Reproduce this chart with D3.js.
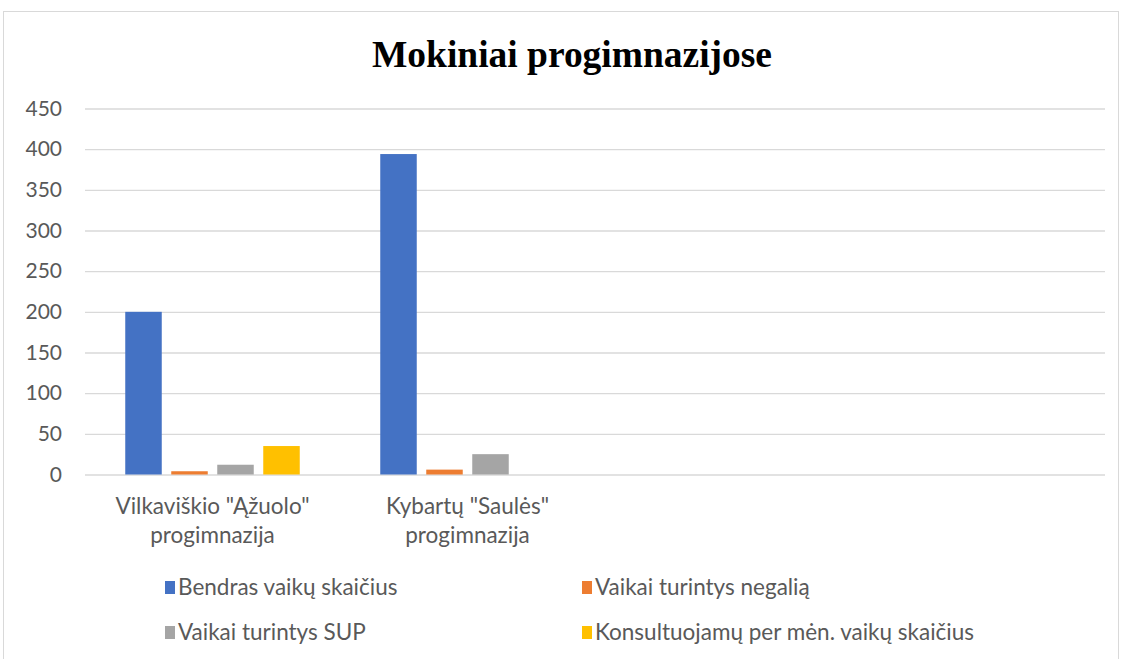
<!DOCTYPE html>
<html>
<head>
<meta charset="utf-8">
<script src="https://cdn.jsdelivr.net/npm/d3@7"></script>
<style>
  body { margin: 0; background: #fff; }
  text { font-family: Lato, "Open Sans", sans-serif; }
</style>
</head>
<body>
<div id="chart"></div>
<script>
// data
var categories = ['Vilkaviškio "Ąžuolo" progimnazija', 'Kybartų "Saulės" progimnazija', '', ''];
var seriesNames = ['Bendras vaikų skaičius', 'Vaikai turintys negalią', 'Vaikai turintys SUP', 'Konsultuojamų per mėn. vaikų skaičius'];
var bendras = [200, 394, null, null];
var negalia = [4, 6, null, null];
var sup = [12, 25, null, null];
var konsult = [35, null, null, null];
var yTicks = [0, 50, 100, 150, 200, 250, 300, 350, 400, 450];
var colors = ['#4472c4', '#ed7d31', '#a5a5a5', '#ffc000'];

function drawChart() {
    var width = 1122, height = 659;
    var plotLeft = 85, plotRight = 1105, plotTop = 108.5, plotBottom = 474.5;

    var svg = d3.select("#chart").append("svg")
        .attr("width", width)
        .attr("height", height);

    // chart frame
    svg.append("rect")
        .attr("x", 3.5).attr("y", 11.5)
        .attr("width", 1115).attr("height", 660)
        .attr("fill", "#fff")
        .attr("stroke", "#d9d9d9");

    svg.append("text")
        .attr("x", 572).attr("y", 67)
        .attr("text-anchor", "middle")
        .attr("textLength", 400)
        .attr("lengthAdjust", "spacingAndGlyphs")
        .style("font-family", "'Liberation Serif', 'Times New Roman', serif")
        .style("font-weight", "bold")
        .style("font-size", "38px")
        .attr("fill", "#000")
        .text("Mokiniai progimnazijose");

    var x0 = d3.scaleBand()
        .domain(d3.range(categories.length))
        .range([plotLeft, plotRight]);

    var x1 = d3.scaleBand()
        .domain(d3.range(seriesNames.length))
        .range([0, x0.bandwidth()])
        .paddingInner(0.2065)
        .paddingOuter(0.875);

    var y = d3.scaleLinear()
        .domain([0, 450])
        .range([plotBottom, plotTop]);

    /* gridlines + y labels */
    var yAxis = d3.axisLeft(y).tickValues(yTicks).tickSize(-(plotRight - plotLeft)).tickPadding(23);
    var gy = svg.append("g")
        .attr("transform", `translate(${plotLeft},0)`)
        .call(yAxis);
    gy.select(".domain").remove();
    gy.selectAll("line").attr("stroke", "#d9d9d9").attr("stroke-width", 1.3);
    gy.selectAll("text")
        .attr("fill", "#595959")
        .style("font-size", "21px");

    /* bars */
    var allSeries = [bendras, negalia, sup, konsult];
    var groups = svg.append("g").selectAll("g")
        .data(allSeries).enter()
        .append("g")
        .attr("fill", (d, i) => colors[i]);

    groups.each(function (vals, s) {
        d3.select(this).selectAll("rect")
            .data(vals.map((v, c) => ({ v: v, c: c })).filter(d => d.v != null))
            .enter().append("rect")
            .attr("x", d => x0(d.c) + x1(s))
            .attr("width", x1.bandwidth())
            .attr("y", d => y(d.v))
            .attr("height", d => y(0) - y(d.v));
    });

    /* x labels, two lines each */
    var xAxis = d3.axisBottom(x0).tickSize(0).tickFormat(i => categories[i]);
    var gx = svg.append("g")
        .attr("transform", `translate(0,${plotBottom})`)
        .call(xAxis);
    gx.select(".domain").remove();
    gx.selectAll(".tick text").remove();
    gx.selectAll(".tick").each(function (i) {
        var label = categories[i];
        if (!label) return;
        var cut = label.lastIndexOf(" ");
        var lines = [label.slice(0, cut), label.slice(cut + 1)];
        var t = d3.select(this).append("text")
            .attr("fill", "#595959")
            .attr("text-anchor", "middle")
            .style("font-size", "22.5px");
        lines.forEach((ln, k) => {
            t.append("tspan").attr("x", 0).attr("y", 39 + k * 29).text(ln);
        });
    });

    /* legend */
    var legendPos = [[165, 588], [582, 588], [165, 633], [582, 633]];
    var legend = svg.append("g").selectAll("g")
        .data(seriesNames).enter()
        .append("g")
        .attr("transform", (d, i) => `translate(${legendPos[i][0]},${legendPos[i][1]})`);
    legend.append("rect")
        .attr("x", 0).attr("y", -7)
        .attr("width", 10).attr("height", 13)
        .attr("fill", (d, i) => colors[i]);
    legend.append("text")
        .attr("x", 13).attr("y", 7)
        .attr("fill", "#595959")
        .style("font-size", "22.5px")
        .text(d => d);
}

drawChart();
</script>
</body>
</html>
